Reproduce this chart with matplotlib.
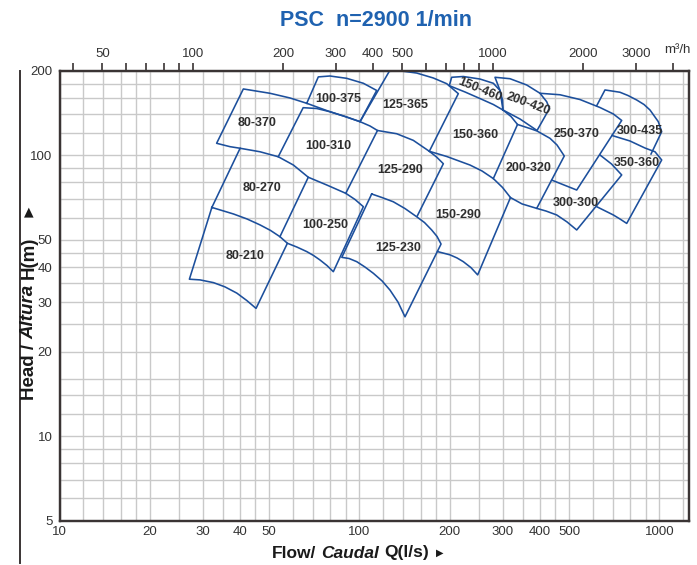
import matplotlib
matplotlib.use("Agg")
import matplotlib.pyplot as plt
from matplotlib import font_manager as fm
from matplotlib.lines import Line2D
from matplotlib.ticker import FixedLocator, FixedFormatter, NullLocator, NullFormatter

# ---------------- data (Q in l/s, H in m) ----------------
q_80_370 = [66.7, 58.7, 50.3, 41.0, 33.4, 37.0, 40.0]
h_80_370 = [153.1, 159.9, 166.2, 172.2, 110.3, 107.3, 105.9]

q_80_270 = [32.2, 40.0, 46.6, 53.6, 60.2, 67.5, 54.3]
h_80_270 = [65.2, 105.9, 102.9, 98.8, 92.3, 83.5, 51.3]

q_80_210 = [32.2, 38.0, 42.2, 46.6, 50.5, 54.3, 57.5, 45.2, 42.1, 39.0, 35.6, 32.6, 29.4, 27.1, 32.2]
h_80_210 = [65.2, 61.8, 59.3, 56.5, 54.0, 51.3, 48.6, 28.5, 30.4, 32.3, 34.0, 35.2, 36.0, 36.2, 65.2]

q_100_375 = [66.7, 72.9, 79.7, 90.6, 103.0, 114.1, 100.4, 89.5, 79.7, 66.7]
h_100_375 = [153.1, 190.1, 191.5, 187.9, 180.4, 170.1, 131.7, 137.4, 142.9, 153.1]

q_100_310 = [53.6, 64.9, 72.0, 79.7, 89.5, 100.4, 108.4, 114.8]
h_100_310 = [98.8, 147.7, 146.7, 142.9, 137.4, 131.7, 127.1, 122.5]

q_100_250 = [67.5, 77.7, 90.0, 96.6, 103.0, 81.8, 77.9, 73.8, 70.2, 66.7, 61.9, 57.5]
h_100_250 = [83.5, 78.4, 73.2, 69.6, 65.6, 38.5, 40.5, 42.4, 44.0, 45.4, 47.1, 48.6]

q_125_365 = [100.4, 125.7, 136.5, 155.1, 176.2, 195.3, 213.5, 170.9]
h_125_365 = [131.7, 199.0, 199.8, 196.2, 188.4, 179.8, 165.7, 103.3]

q_125_290 = [90.0, 114.8, 133.0, 151.1, 170.9, 180.6, 190.3, 155.8]
h_125_290 = [73.2, 122.5, 119.3, 113.0, 103.3, 98.6, 93.3, 60.8]

q_125_230 = [109.8, 118.9, 129.6, 141.8, 155.1, 164.7, 174.0, 181.3, 187.0, 141.8, 134.4,
             126.4, 118.9, 111.2, 104.3, 97.9, 92.3, 87.3, 109.8]
h_125_230 = [72.8, 70.7, 68.3, 64.6, 60.4, 57.6, 54.2, 51.4, 48.3, 26.6, 30.0,
             33.1, 35.7, 38.0, 40.0, 41.8, 42.9, 43.3, 72.8]

q_150_290 = [170.9, 195.3, 233.5, 256.1, 279.3, 299.7, 318.6, 247.7, 235.3, 221.8, 211.3, 200.3, 182.0]
h_150_290 = [103.3, 99.0, 92.3, 87.9, 82.6, 76.8, 70.7, 37.5, 39.8, 41.8, 43.1, 44.2, 45.4]

q_150_360 = [300.8, 319.9, 336.3, 279.3]
h_150_360 = [144.9, 137.4, 128.7, 82.6]

q_150_460 = [300.8, 294.0, 279.3, 252.1, 221.8, 202.9, 199.2, 224.7, 252.1, 279.3, 300.8]
h_150_460 = [144.9, 170.1, 180.4, 186.8, 190.7, 189.5, 176.9, 168.0, 159.2, 151.6, 144.9]

q_200_420 = [300.8, 299.7, 294.0, 282.9, 317.4, 360.9, 399.7, 420.7, 429.8, 390.6, 342.8, 300.8]
h_200_420 = [144.9, 157.3, 170.1, 189.5, 187.3, 177.9, 166.2, 155.1, 146.7, 122.5, 134.6, 144.9]

q_200_320 = [336.3, 370.1, 390.6, 431.5, 455.3, 481.5, 389.7, 348.1, 318.6]
h_200_320 = [128.7, 124.5, 122.0, 114.9, 108.8, 99.4, 64.7, 67.1, 70.7]

q_250_370 = [399.7, 465.9, 543.3, 633.4, 701.5, 748.2, 529.7, 465.9, 437.2]
h_250_370 = [166.2, 164.2, 157.9, 147.9, 140.3, 133.0, 75.2, 79.4, 81.6]

q_300_435 = [617.5, 658.1, 738.4, 785.2, 839.5, 887.8, 929.7, 990.8, 1017, 936.9]
h_300_435 = [150.1, 170.8, 167.6, 163.2, 157.3, 151.6, 144.9, 131.7, 121.3, 101.0]

q_350_360 = [694.5, 797.4, 894.7, 966, 1017, 777.5, 738.4, 701.5, 617.5]
h_350_360 = [117.6, 112.4, 106.1, 102.9, 96.2, 57.2, 59.3, 61.3, 65.6]

q_300_300 = [633.4, 691.8, 748.2, 529.7, 491.7, 454.3, 418.6, 389.7]
h_300_300 = [100.2, 93.1, 85.1, 54.2, 57.9, 61.3, 63.3, 64.7]

label_text = ["80-370", "100-375", "125-365", "100-310", "80-270", "125-290",
              "150-360", "150-460", "200-420", "250-370", "300-435", "200-320",
              "350-360", "300-300", "150-290", "100-250", "125-230", "80-210"]
label_q = [45.4, 85.0, 141.8, 78.7, 47.2, 136.5, 242.7, 252.1, 365.3, 529.7, 861,
           365.3, 839.5, 524.8, 213.0, 76.7, 134.7, 41.5]
label_h = [129.9, 158.2, 150.6, 107.9, 76.3, 88.4, 118.1, 170.8, 151.9, 119.1, 122.0,
           89.8, 93.6, 67.6, 61.3, 56.5, 46.6, 43.8]
label_rot = [0, 0, 0, 0, 0, 0, 0, -22, -20, 0, 0, 0, 0, 0, 0, 0, 0, 0]

x_ticks = [10, 20, 30, 40, 50, 100, 200, 300, 400, 500, 1000]
x_ticklabels = ["10", "20", "30", "40", "50", "100", "200", "300", "400", "500", "1000"]
y_ticks = [5, 10, 20, 30, 40, 50, 100, 200]
y_ticklabels = ["5", "10", "20", "30", "40", "50", "100", "200"]
x_grid = [12, 14, 16, 18, 25, 35, 45, 60, 70, 80, 90, 120, 140, 160, 180, 250, 350, 450,
          600, 700, 800, 900, 1200]
y_grid = [6, 7, 8, 9, 12, 14, 16, 25, 35, 45, 60, 70, 80, 90, 120, 140, 160, 180]
top_ticks = [40, 50, 60, 70, 80, 90, 100, 200, 300, 400, 500, 600, 700, 800, 900,
             1000, 2000, 3000, 4000]
top_labels = ["", "50", "", "", "", "", "100", "200", "300", "400", "500", "", "", "", "",
              "1000", "2000", "3000", ""]

pumps = [
    (q_80_370, h_80_370), (q_80_270, h_80_270), (q_80_210, h_80_210),
    (q_100_375, h_100_375), (q_100_310, h_100_310), (q_100_250, h_100_250),
    (q_125_365, h_125_365), (q_125_290, h_125_290), (q_125_230, h_125_230),
    (q_150_290, h_150_290), (q_150_360, h_150_360), (q_150_460, h_150_460),
    (q_200_420, h_200_420), (q_200_320, h_200_320), (q_250_370, h_250_370),
    (q_300_435, h_300_435), (q_350_360, h_350_360), (q_300_300, h_300_300),
]

# ---------------- style ----------------
W, H = 697, 565
plt.rcParams["font.family"] = ["Liberation Sans", "DejaVu Sans"]
LINE = "#1c4f9c"
TITLE = "#1f62b0"
DARK = "#3a3434"
TXT = "#2e2e2e"

names = {f.name for f in fm.fontManager.ttflist}
if "Liberation Sans Narrow" in names:
    lab_family = ["Liberation Sans Narrow", "DejaVu Sans"]
    lab_size = 10
else:
    lab_family = ["Liberation Sans", "DejaVu Sans"]
    lab_size = 9

fig = plt.figure(figsize=(W / 100, H / 100), dpi=100)
L, R, T, B = 59.5, 689.3, 70.7, 520.7
ax = fig.add_axes([L / W, 1 - B / H, (R - L) / W, (B - T) / H])
ax.set_xscale("log")
ax.set_yscale("log")
ax.set_xlim(10, 1257)
ax.set_ylim(5, 200)

ax.xaxis.set_major_locator(FixedLocator(x_ticks))
ax.xaxis.set_major_formatter(FixedFormatter(x_ticklabels))
ax.xaxis.set_minor_locator(FixedLocator(x_grid))
ax.xaxis.set_minor_formatter(NullFormatter())
ax.yaxis.set_major_locator(FixedLocator(y_ticks))
ax.yaxis.set_major_formatter(FixedFormatter(y_ticklabels))
ax.yaxis.set_minor_locator(FixedLocator(y_grid))
ax.yaxis.set_minor_formatter(NullFormatter())
ax.grid(which="both", color="#c9c9c9", lw=1.0)
ax.set_axisbelow(True)
ax.tick_params(which="both", length=0)
ax.tick_params(axis="x", pad=4, labelsize=9.5, labelcolor="#333333")
ax.tick_params(axis="y", pad=5, labelsize=9.5, labelcolor="#333333")
for s in ax.spines.values():
    s.set_color(DARK)
    s.set_linewidth(1.6)

ax2 = ax.twiny()
ax2.set_xscale("log")
ax2.set_xlim(10 * 3.6, 1257 * 3.6)
ax2.xaxis.set_major_locator(FixedLocator(top_ticks))
ax2.xaxis.set_major_formatter(FixedFormatter(top_labels))
ax2.xaxis.set_minor_locator(NullLocator())
ax2.tick_params(axis="x", direction="out", length=6, width=1.2, color=DARK,
                pad=2, labelsize=9.5, labelcolor="#333333")
for s in ax2.spines.values():
    s.set_color(DARK)
    s.set_linewidth(1.6)

for q, h in pumps:
    ax.plot(q, h, color=LINE, lw=1.15, solid_joinstyle="round", zorder=3)

for t, q, h, r in zip(label_text, label_q, label_h, label_rot):
    ax.text(q, h, t, ha="center", va="center", rotation=r, fontsize=lab_size,
            fontweight="bold", color=TXT, family=lab_family, zorder=4)

fig.text(376 / W, 1 - 21 / H, "PSC  n=2900 1/min", ha="center", va="center",
         color=TITLE, fontsize=15.5, fontweight="bold")
fig.text(677 / W, 1 - 50 / H, "m³/h", ha="center", va="center", fontsize=9.5,
         color="#333333")

# decorative vertical line on the left
fig.add_artist(Line2D([20 / W, 20 / W], [1 - 71 / H, 1 - 563 / H],
                      transform=fig.transFigure, color=DARK, lw=1.4))

renderer = fig.canvas.get_renderer()

# y label pieces (rotated)
fs_y = 13.5
gap = 0.28 * fs_y * 100 / 72
ypos = H - 400
for s, style in [("Head /", "normal"), ("Altura", "italic"), ("H(m)", "normal")]:
    t = fig.text(29 / W, ypos / H, s, rotation=90, rotation_mode="anchor",
                 ha="left", va="center", fontsize=fs_y, fontweight="bold",
                 style=style, color="#1a1a1a")
    bb = t.get_window_extent(renderer)
    ypos += bb.height + gap
fig.text(29 / W, (H - 212) / H, "▲", ha="center", va="center", fontsize=9,
         family=["DejaVu Sans"], color="#1a1a1a")

# x label pieces
fs_x = 12.5
gap = 0.28 * fs_x * 100 / 72
xpos = 272
for s, style in [("Flow/", "normal"), ("Caudal", "italic"), ("Q(l/s)", "normal")]:
    t = fig.text(xpos / W, 12 / H, s, ha="left", va="center", fontsize=fs_x,
                 fontweight="bold", style=style, color="#1a1a1a")
    bb = t.get_window_extent(renderer)
    xpos += bb.width + gap
fig.text((xpos + 2) / W, 12 / H, "▶", ha="left", va="center", fontsize=7,
         family=["DejaVu Sans"], color="#1a1a1a")

fig.savefig("out.png", dpi=100)
